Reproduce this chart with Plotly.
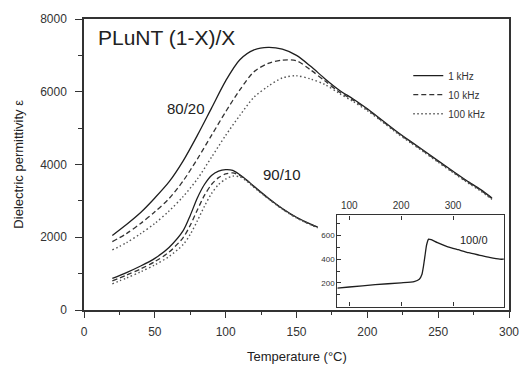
import plotly.graph_objects as go

# ---------------- data ----------------
# 80/20 composition
t_8020 = [20, 30, 40, 50, 60, 70, 80, 90, 100, 110, 120, 130, 140, 150, 160, 170,
          180, 190, 200, 210, 220, 230, 240, 250, 260, 270, 280, 288]
e_8020_1k = [2050, 2350, 2680, 3080, 3520, 4100, 4800, 5550, 6300, 6880, 7150, 7220,
             7170, 7000, 6700, 6360, 6050, 5800, 5530, 5230, 4930, 4650, 4380, 4100,
             3830, 3560, 3310, 3080]
e_8020_10k = [1880, 2100, 2380, 2700, 3060, 3550, 4150, 4800, 5450, 6050, 6550, 6780,
              6870, 6850, 6600, 6300, 6000, 5770, 5510, 5210, 4910, 4630, 4360, 4080,
              3810, 3540, 3290, 3060]
e_8020_100k = [1650, 1850, 2100, 2380, 2720, 3120, 3600, 4200, 4800, 5350, 5850, 6150,
               6380, 6440, 6350, 6200, 5960, 5730, 5480, 5190, 4890, 4610, 4340, 4060,
               3790, 3520, 3270, 3040]

# 90/10 composition
t_9010 = [20, 30, 40, 50, 60, 70, 75, 80, 85, 90, 95, 100, 105, 110, 115, 120, 130,
          140, 150, 160, 165]
e_9010_1k = [870, 1030, 1210, 1420, 1720, 2180, 2600, 3080, 3450, 3700, 3820, 3860,
             3840, 3720, 3570, 3400, 3080, 2790, 2550, 2360, 2280]
e_9010_10k = [800, 960, 1130, 1330, 1590, 1990, 2330, 2750, 3150, 3450, 3640, 3740,
              3770, 3700, 3560, 3390, 3070, 2780, 2540, 2350, 2270]
e_9010_100k = [720, 880, 1050, 1240, 1470, 1800, 2080, 2450, 2850, 3200, 3450, 3600,
               3680, 3660, 3540, 3370, 3060, 2770, 2530, 2340, 2260]

# 100/0 composition (inset)
t_1000 = [77, 100, 150, 200, 225, 235, 240, 243, 246, 249, 253, 258, 270, 290, 310,
          330, 350, 370, 390, 398]
e_1000 = [155, 165, 185, 200, 210, 230, 270, 340, 430, 520, 570, 565, 540, 505, 480,
          455, 435, 415, 400, 400]

freq_labels = ["1 kHz", "10 kHz", "100 kHz"]
x_ticks_main = [0, 50, 100, 150, 200, 250, 300]
y_ticks_main = [0, 2000, 4000, 6000, 8000]
x_ticks_inset = [100, 200, 300]
y_ticks_inset = [200, 400, 600]

# ---------------- styling ----------------
FONT = "Liberation Sans, Arial, sans-serif"
styles = [dict(color="#1e1e1e", width=1.3, dash="solid", shape="spline", smoothing=0.8),
          dict(color="#333333", width=1.3, dash="5px,3px", shape="spline", smoothing=0.8),
          dict(color="#555555", width=1.4, dash="1.5px,2.5px", shape="spline", smoothing=0.8)]

fig = go.Figure()

for i, (ys, name) in enumerate(zip([e_8020_1k, e_8020_10k, e_8020_100k], freq_labels)):
    fig.add_trace(go.Scatter(x=t_8020, y=ys, mode="lines", name=name,
                             legendgroup=name, line=styles[i], xaxis="x", yaxis="y"))
for i, (ys, name) in enumerate(zip([e_9010_1k, e_9010_10k, e_9010_100k], freq_labels)):
    fig.add_trace(go.Scatter(x=t_9010, y=ys, mode="lines", name=name, showlegend=False,
                             legendgroup=name, line=styles[i], xaxis="x", yaxis="y"))

fig.add_trace(go.Scatter(x=t_1000, y=e_1000, mode="lines", showlegend=False,
                         line=dict(color="#1e1e1e", width=1.3, shape="spline", smoothing=0.5),
                         xaxis="x2", yaxis="y2"))

axis_col = "#333333"
fig.update_layout(
    width=531, height=371,
    margin=dict(l=84, r=13, t=12, b=61),
    paper_bgcolor="white", plot_bgcolor="white",
    font=dict(family=FONT, color="#333333"),
    xaxis=dict(range=[0, 300], tickvals=x_ticks_main, ticks="outside", ticklen=6,
               tickwidth=1.2, tickcolor=axis_col, showline=True, linecolor=axis_col,
               linewidth=1.5, mirror=True, showgrid=False, zeroline=False,
               tickfont=dict(size=12, color="#333333"), ticklabelstandoff=4,
               minor=dict(dtick=25, tick0=0, ticks="outside", ticklen=3,
                          tickcolor=axis_col, tickwidth=1.2, showgrid=False),
               domain=[0, 1]),
    yaxis=dict(range=[0, 8000], tickvals=y_ticks_main, ticks="outside", ticklen=7,
               tickwidth=1.2, tickcolor=axis_col, showline=True, linecolor=axis_col,
               linewidth=1.5, mirror=True, showgrid=False, zeroline=False,
               tickfont=dict(size=12, color="#333333"), ticklabelstandoff=6,
               minor=dict(dtick=1000, tick0=0, ticks="outside", ticklen=4,
                          tickcolor=axis_col, tickwidth=1.2, showgrid=False),
               domain=[0, 1]),
    xaxis2=dict(range=[77, 398], tickvals=x_ticks_inset, side="top", anchor="y2",
                ticks="inside", ticklen=4, tickcolor=axis_col, tickwidth=1,
                showline=True, linecolor=axis_col, linewidth=1.2, mirror="ticks",
                showgrid=False, zeroline=False, tickfont=dict(size=10, color="#333333"),
                ticklabelstandoff=1, domain=[0.596, 0.988]),
    yaxis2=dict(range=[0, 770], tickvals=y_ticks_inset, anchor="x2", ticks="inside",
                ticklen=4, tickcolor=axis_col, tickwidth=1, showline=True,
                linecolor=axis_col, linewidth=1.2, mirror=True, showgrid=False,
                zeroline=False, tickfont=dict(size=8, color="#333333"),
                minor=dict(dtick=100, tick0=0, ticks="inside", ticklen=3,
                           tickcolor=axis_col, showgrid=False),
                domain=[0.012, 0.325]),
    legend=dict(x=0.763, y=0.855, xanchor="left", yanchor="top",
                bgcolor="rgba(0,0,0,0)", font=dict(size=10, color="#333333"),
                tracegroupgap=0, itemwidth=30),
    showlegend=True,
)

fig.add_annotation(text="PLuNT (1-X)/X", xref="paper", yref="paper", x=0.028, y=0.935,
                   xanchor="left", yanchor="middle", showarrow=False,
                   font=dict(size=21, color="#222222"))
fig.add_annotation(text="80/20", xref="x", yref="y", x=72, y=5550, showarrow=False,
                   font=dict(size=15, color="#222222"))
fig.add_annotation(text="90/10", xref="x", yref="y", x=140, y=3720, showarrow=False,
                   font=dict(size=15, color="#222222"))
fig.add_annotation(text="100/0", xref="x2", yref="y2", x=340, y=560, showarrow=False,
                   font=dict(size=11, color="#222222"))
fig.add_annotation(text="Temperature (°C)", xref="paper", yref="paper", x=0.5, y=-0.16,
                   xanchor="center", yanchor="middle", showarrow=False,
                   font=dict(size=13, color="#222222"))
fig.add_annotation(text="Dielectric permittivity ε", xref="paper", yref="paper",
                   x=-0.155, y=0.5, xanchor="center", yanchor="middle", textangle=-90,
                   showarrow=False, font=dict(size=13, color="#222222"))

fig.write_html("out.html")
